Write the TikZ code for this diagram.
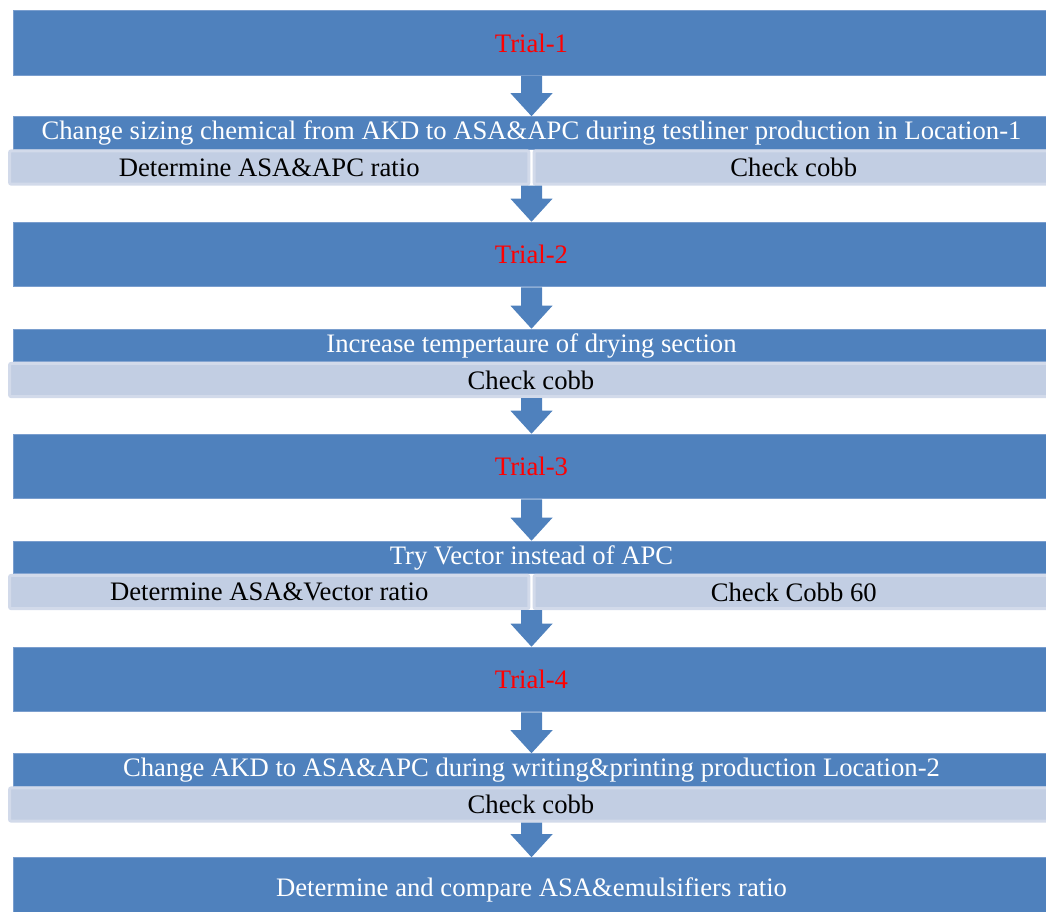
\documentclass[tikz,border=0pt]{standalone}
\usepackage{fontspec}
\setmainfont{Liberation Serif}
\usetikzlibrary{calc}

\definecolor{boxblue}{RGB}{79,129,189}
\definecolor{boxedge}{RGB}{122,158,206}
\definecolor{subfill}{RGB}{194,206,227}
\definecolor{subedge}{RGB}{210,218,234}

% fat block arrow from the bottom of #1 to the top of #2
\newcommand{\fatarrow}[2]{%
  \fill[boxblue] ($(#2.north |- #1.south)+(-10.5,0)$) -- ($(#2.north)+(-10.5,-23)$)
    -- ($(#2.north)+(-21,-23)$) -- (#2.north) -- ($(#2.north)+(21,-23)$)
    -- ($(#2.north)+(10.5,-23)$) -- ($(#2.north |- #1.south)+(10.5,0)$) -- cycle;}

\begin{document}
\begin{tikzpicture}[x=0.75pt,y=-0.75pt,
	trialbox/.style={rectangle, fill=boxblue, draw=boxedge, line width=0.75pt,
		minimum width=777.75pt, minimum height=48.4pt, inner sep=0pt,
		text=red, font=\fontsize{20}{24}\selectfont},
	stepbox/.style={trialbox, minimum height=24.4pt, text=white},
	subfull/.style={rectangle, rounded corners=1.5pt, fill=subfill, draw=subedge,
		line width=2.25pt, minimum width=782.25pt, minimum height=25.1pt,
		inner sep=0pt, text=black, font=\fontsize{20}{24}\selectfont},
	subhalf/.style={subfull, minimum width=389.6pt}]
			%%%	Frame
			\useasboundingbox (0,0) rectangle (1046,911);
			\clip (0,0) rectangle (1046,911);
			%%%	Trial-1
			\node[trialbox] (t1) at (531.5,43) {Trial-1};
			\node[stepbox] (d1) at (531.5,133) {Change sizing chemical from AKD to ASA\&APC during testliner production in Location-1};
			\node[subhalf] (s1a) at (269.25,167.5) {Determine ASA\&APC ratio};
			\node[subhalf] (s1b) at (793.75,167.5) {Check cobb};
			%%%	Trial-2
			\node[trialbox] (t2) at (531.5,254.5) {Trial-2};
			\node[stepbox] (d2) at (531.5,345.5) {Increase tempertaure of drying section};
			\node[subfull] (s2) at (531,380) {Check cobb};
			%%%	Trial-3
			\node[trialbox] (t3) at (531.5,466.5) {Trial-3};
			\node[stepbox] (d3) at (531.5,557.5) {Try Vector instead of APC};
			\node[subhalf] (s3a) at (269.25,592) {Determine ASA\&Vector ratio};
			\node[subhalf] (s3b) at (793.75,592) {Check Cobb 60};
			%%%	Trial-4
			\node[trialbox] (t4) at (531.5,679.5) {Trial-4};
			\node[stepbox] (d4) at (531.5,770) {Change AKD to ASA\&APC during writing\&printing production Location-2};
			\node[subfull] (s4) at (531,804.5) {Check cobb};
			%%%	Result
			\node[trialbox, text=white] (fin) at (531.5,890) {Determine and compare ASA\&emulsifiers ratio};
			%%%	Arrows
			\fatarrow{t1}{d1}
			\fatarrow{s1a}{t2}
			\fatarrow{t2}{d2}
			\fatarrow{s2}{t3}
			\fatarrow{t3}{d3}
			\fatarrow{s3a}{t4}
			\fatarrow{t4}{d4}
			\fatarrow{s4}{fin}
\end{tikzpicture}
\end{document}
